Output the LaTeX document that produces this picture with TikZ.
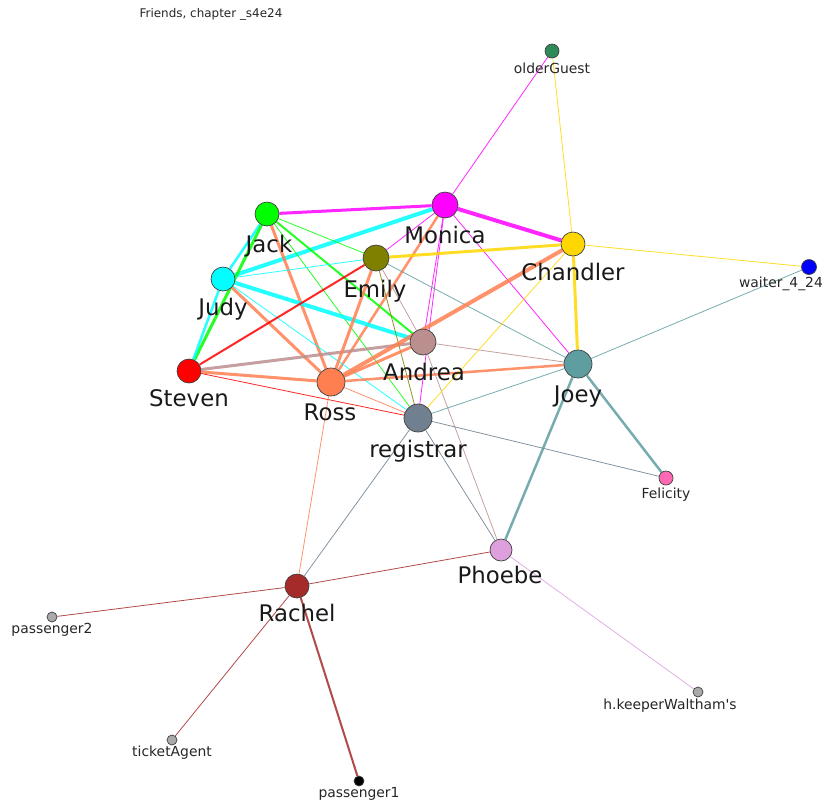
\documentclass[tikz,border=0pt]{standalone}
\usepackage{fontspec}
\setmainfont{DejaVu Sans}
\usepackage{xcolor}
\usetikzlibrary{backgrounds}
\definecolor{seagreen}{HTML}{2E8B57}
\definecolor{magentac}{HTML}{FF00FF}
\definecolor{cyanc}{HTML}{00FFFF}
\definecolor{limec}{HTML}{00FF00}
\definecolor{redc}{HTML}{FF0000}
\definecolor{bluec}{HTML}{0000FF}
\definecolor{goldc}{HTML}{FFD700}
\definecolor{olivec}{HTML}{808000}
\definecolor{rosyb}{HTML}{BC8F8F}
\definecolor{cadetb}{HTML}{5F9EA0}
\definecolor{coralc}{HTML}{FF7F50}
\definecolor{slateg}{HTML}{708090}
\definecolor{hotp}{HTML}{FF69B4}
\definecolor{plumc}{HTML}{DDA0DD}
\definecolor{brownc}{HTML}{A52A2A}
\definecolor{greyc}{HTML}{AAAAAA}

\begin{document}
\begin{tikzpicture}[x=0.02cm, y=-0.02cm,
    pers/.style={circle, draw=black!75, line width=0.4pt, inner sep=0pt},
    biglab/.style={anchor=base, font=\fontsize{13}{15}\selectfont, text=black!90},
    smalllab/.style={anchor=base, font=\fontsize{7.9}{9}\selectfont, text=black!85},
    edge/.style={opacity=0.85}]
    \useasboundingbox (0,0) rectangle (827,802);
    \node[smalllab, font=\fontsize{6.8}{8}\selectfont] (title) at (211,17) {Friends, chapter \_s4e24};
    % characters
    \foreach \n/\x/\y/\d/\c in {olderGuest/552/51/14/seagreen, Monica/445/205/26/magentac,
        Jack/267/214/24/limec, Chandler/573/244/24/goldc, Emily/376/258/26/olivec,
        Judy/223/279/24/cyanc, waiter/809/267/15/bluec, Andrea/423/342/26/rosyb,
        Joey/578/364/28/cadetb, Steven/189/371/24/redc, Ross/331/382/28/coralc,
        registrar/418/418/28/slateg, Felicity/666/478/14/hotp, Phoebe/501/550/22/plumc,
        Rachel/297/586/24/brownc, passengerB/52/617/10/greyc, keeper/698/692/10/greyc,
        ticketAgent/172/740/10/greyc, passengerA/359/781/10/black}
        \node[pers, fill=\c, minimum size=\d*0.569pt] (\n) at (\x,\y) {};
    % names
    \foreach \n/\x/\y/\t in {Monica/445/243/Monica, Jack/269/252/Jack, Chandler/573/280/Chandler,
        Emily/375/297/Emily, Judy/223/315/Judy, Andrea/424/380/Andrea, Joey/578/402/Joey,
        Steven/189/406/Steven, Ross/330/420/Ross, registrar/418/457/registrar,
        Phoebe/500/583/Phoebe, Rachel/297/621/Rachel}
        \node[biglab] (\n-lab) at (\x,\y) {\t};
    \foreach \n/\x/\y/\t in {olderGuest/552/73/olderGuest, waiter/781/287/{waiter\_4\_24},
        Felicity/666/498/Felicity, passengerB/52/633/passenger2,
        keeper/670/709/{h.keeperWaltham\textquotesingle s}, ticketAgent/172/756/ticketAgent,
        passengerA/359/797/passenger1}
        \node[smalllab] (\n-lab) at (\x,\y) {\t};
    % interactions
    \begin{scope}[on background layer]
        \foreach \a/\b/\c/\w in {Monica/olderGuest/magentac/0.8, Chandler/olderGuest/goldc/0.8,
            Jack/Monica/magentac/3, Monica/Chandler/magentac/4, Judy/Monica/cyanc/4,
            Monica/Emily/magentac/0.8, Monica/Andrea/magentac/0.8, Monica/registrar/magentac/0.8,
            Monica/Joey/magentac/0.8, Monica/Ross/coralc/2.5, Jack/Judy/cyanc/2.5,
            Jack/Steven/limec/3, Jack/Emily/limec/0.8, Jack/Andrea/limec/2,
            Jack/registrar/limec/0.8, Jack/Ross/coralc/3, Judy/Steven/cyanc/2.5,
            Judy/Emily/cyanc/0.8, Judy/Andrea/cyanc/4, Judy/Ross/coralc/3,
            Judy/registrar/cyanc/0.8, Steven/Emily/redc/2, Steven/Andrea/rosyb/3,
            Steven/Ross/coralc/3, Steven/registrar/redc/0.8, Emily/Chandler/goldc/3,
            Emily/Ross/coralc/3, Emily/Andrea/rosyb/0.8, Emily/registrar/olivec/0.8,
            Emily/Joey/cadetb/0.8, Ross/Andrea/coralc/3, Ross/Chandler/coralc/4,
            Ross/Joey/coralc/2.5, Ross/registrar/coralc/0.8, Ross/Rachel/coralc/0.8,
            Andrea/Joey/rosyb/0.8, Andrea/Phoebe/rosyb/0.8, Chandler/Joey/goldc/3,
            Chandler/registrar/goldc/0.8, Chandler/waiter/goldc/0.8, Joey/waiter/cadetb/0.8,
            Joey/registrar/cadetb/0.8, Joey/Phoebe/cadetb/2.5, Joey/Felicity/cadetb/2.5,
            registrar/Felicity/slateg/0.8, registrar/Phoebe/slateg/0.8,
            registrar/Rachel/slateg/0.8, Rachel/Phoebe/brownc/0.8,
            Rachel/passengerB/brownc/0.8, Rachel/ticketAgent/brownc/0.8,
            Rachel/passengerA/brownc/2, Phoebe/keeper/plumc/0.8}
            \draw[edge, draw=\c, line width=\w*0.569pt] (\a) -- (\b);
    \end{scope}
\end{tikzpicture}
\end{document}
